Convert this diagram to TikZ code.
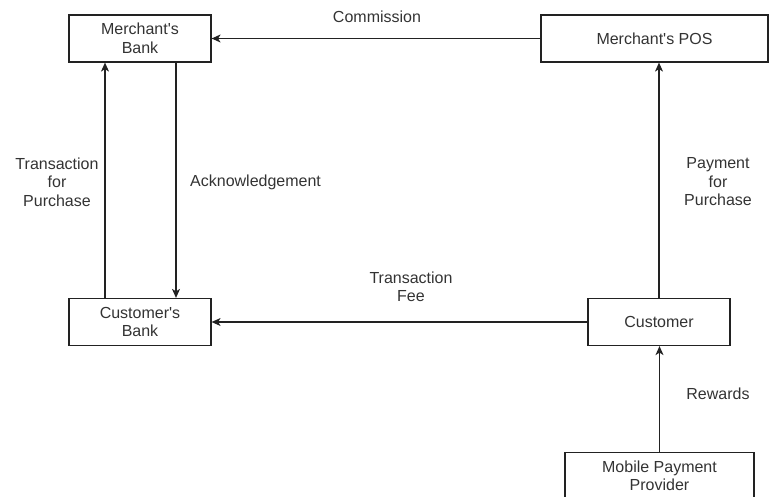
\documentclass[tikz,border=0pt]{standalone}
\usepackage{fontspec}
\setmainfont{Liberation Sans}
\usepackage{tikz}
\usetikzlibrary{arrows.meta, positioning}
\definecolor{linegray}{HTML}{222222}
\definecolor{textgray}{HTML}{333333}
\tikzset{
  party/.style = {rectangle, draw=linegray, line width=1.2pt, fill=white,
                  align=center, text=textgray, inner sep=0pt,
                  minimum height=47pt, font=\fontsize{16}{18.5}\selectfont},
  flowlabel/.style = {align=center, text=textgray, inner sep=0pt,
                      font=\fontsize{16}{18.5}\selectfont},
  arrow/.style = {draw=linegray, line width=1.2pt,
                  -{Stealth[length=9pt,width=8pt,inset=2.5pt]}}
}
\begin{document}
\begin{tikzpicture}[x=1pt, y=-1pt]
  \useasboundingbox (0,0) rectangle (769,496);
  % Banks
  \node (mbank) [party, minimum width=142pt] at (140,38.5) {Merchant\textquotesingle s\\Bank};
  \node (cbank) [party, minimum width=142pt] at (140,322)  {Customer\textquotesingle s\\Bank};

  % Merchant and customer side
  \node (pos)  [party, minimum width=227pt] at (654.5,38.5) {Merchant\textquotesingle s POS};
  \node (cust) [party, minimum width=142pt] at (659,322)    {Customer};
  \node (mpp)  [party, minimum width=189pt] at (659.5,476)  {Mobile Payment\\Provider};

  % Arrows
  \draw[arrow] ([xshift=-35pt]cbank.north) -- ([xshift=-35pt]mbank.south);
  \draw[arrow] ([xshift=36pt]mbank.south)  -- ([xshift=36pt]cbank.north);
  \draw[arrow] (pos)  -- (mbank);
  \draw[arrow] (cust) -- (cbank);
  \draw[arrow] (cust.north) -- (cust.north |- pos.south);
  \draw[arrow] (mpp) -- (mpp |- cust.south);

  % Labels
  \node (commission) [flowlabel] at (377,17)  {Commission};
  \node (txpurchase) [flowlabel] at (57,182)  {Transaction\\for\\Purchase};
  \node (ack)        [flowlabel, anchor=west] at (190,182) {Acknowledgement};
  \node (paypurchase)[flowlabel] at (718,182) {Payment\\for\\Purchase};
  \node (txfee)      [flowlabel] at (411,287) {Transaction\\Fee};
  \node (rewards)    [flowlabel] at (718,394) {Rewards};
\end{tikzpicture}
\end{document}
